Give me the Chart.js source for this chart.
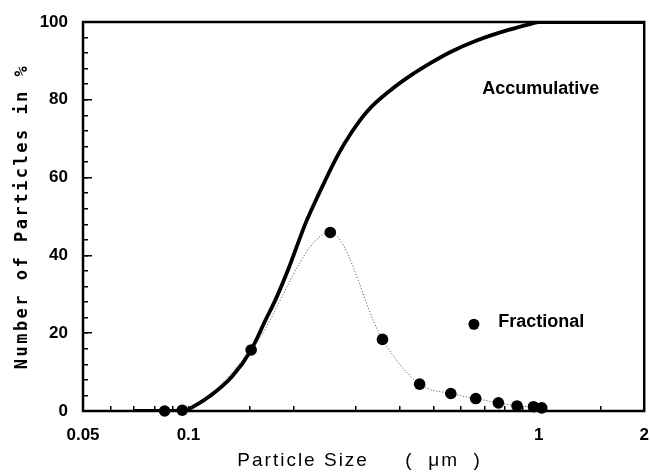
<!DOCTYPE html>
<html>
<head>
<meta charset="utf-8">
<script src="https://cdn.jsdelivr.net/npm/chart.js@4.4.1/dist/chart.umd.min.js"></script>
<style>
    html, body { margin: 0; padding: 0; background: #fff; }
    #wrap { width: 650px; height: 475px; }
</style>
</head>
<body>
<div id="wrap"><canvas id="sizeChart" width="650" height="475"></canvas></div>
<script>
// values
const accSize = [0.07, 0.096, 0.105, 0.1146, 0.133, 0.151, 0.166, 0.177, 0.194, 0.216, 0.23, 0.267, 0.292, 0.325, 0.379, 0.425, 0.492, 0.56, 0.668, 0.815, 0.957, 1.0, 2.0];
const accPct = [0, 0, 1.5, 3.7, 8.8, 15.7, 23.4, 28.5, 37.1, 48.3, 53.8, 65.8, 71.6, 77.2, 82.6, 85.9, 89.5, 92.3, 95.3, 97.9, 99.6, 100, 100];

const fracSize = [0.0855, 0.096, 0.151, 0.254, 0.358, 0.457, 0.561, 0.661, 0.767, 0.867, 0.966, 1.02];
const fracPct = [0, 0.2, 15.7, 45.9, 18.4, 6.9, 4.5, 3.2, 2.1, 1.3, 1.1, 0.8];

const xTickLabels = [0.05, 0.1, 1, 2];
const yTickLabels = [0, 20, 40, 60, 80, 100];

const seriesNames = ['Accumulative', 'Fractional'];
const xTitle = 'Particle Size     (  \u03bcm  )';
const yTitle = 'Number of Particles in %';

const toPoints = (xs, ys) => xs.map((x, i) => ({ x: x, y: ys[i] }));

// draws the frame, the two series labels and the axis titles
const decorations = {
    id: 'decorations',
    afterDatasetsDraw(chart) {
        const { ctx, chartArea: a, scales } = chart;
        const xs = scales.x, ys = scales.y;
        ctx.save();

        ctx.strokeStyle = '#000';
        ctx.lineWidth = 2.5;
        ctx.strokeRect(a.left, a.top, a.right - a.left, a.bottom - a.top);

        ctx.fillStyle = '#000';
        ctx.font = 'bold 18px "Liberation Sans", Arial, sans-serif';
        ctx.textBaseline = 'middle';
        ctx.textAlign = 'left';
        ctx.fillText(seriesNames[0], xs.getPixelForValue(0.69), ys.getPixelForValue(82.8));
        ctx.fillText(seriesNames[1], xs.getPixelForValue(0.766), ys.getPixelForValue(22.9));

        ctx.beginPath();
        ctx.arc(xs.getPixelForValue(0.653), ys.getPixelForValue(22.3), 5.5, 0, Math.PI * 2);
        ctx.fill();

        // x title
        ctx.font = '19px "Liberation Sans", Arial, sans-serif';
        ctx.letterSpacing = '2px';
        ctx.textAlign = 'center';
        ctx.fillText(xTitle, (a.left + a.right) / 2 - 4, 461);

        // y title, rotated
        ctx.font = 'bold 17px "DejaVu Sans Mono", monospace';
        ctx.letterSpacing = '2.5px';
        ctx.translate(23, (a.top + a.bottom) / 2);
        ctx.rotate(-Math.PI / 2);
        ctx.fillText(yTitle, 0, 0);

        ctx.restore();
    }
};

const ctx = document.getElementById('sizeChart').getContext('2d');
const sizeChart = new Chart(ctx, {
    type: 'scatter',
    data: {
        datasets: [{
            label: seriesNames[0],
            data: toPoints(accSize, accPct),
            showLine: true,
            borderColor: '#000',
            borderWidth: 3.8,
            pointRadius: 0,
            cubicInterpolationMode: 'monotone',
            order: 2
        }, {
            label: seriesNames[1],
            data: toPoints(fracSize, fracPct),
            showLine: true,
            borderColor: '#444',
            borderWidth: 1,
            borderDash: [1, 2],
            pointRadius: 5.8,
            pointBackgroundColor: '#000',
            pointBorderColor: '#000',
            pointBorderWidth: 0,
            cubicInterpolationMode: 'monotone',
            clip: false,
            order: 1
        }]
    },
    options: {
        responsive: false,
        animation: false,
        events: [],
        layout: { padding: { top: 22, right: 2, left: 0, bottom: 0 } },
        plugins: {
            legend: { display: false },
            tooltip: { enabled: false }
        },
        scales: {
            x: {
                type: 'logarithmic',
                min: 0.05,
                max: 2,
                grid: { drawOnChartArea: false, tickLength: -5, color: '#000', lineWidth: 1.5 },
                border: { display: false },
                ticks: {
                    autoSkip: false,
                    maxRotation: 0,
                    padding: 19,
                    color: '#000',
                    font: { family: '"Liberation Sans", Arial, sans-serif', size: 17, weight: 'bold' },
                    callback: (value) => {
                        const hit = xTickLabels.find(t => Math.abs(t - value) < 1e-9);
                        return hit === undefined ? '' : String(hit);
                    }
                },
                afterFit: (scale) => {
                    scale.height = 64;
                    scale.paddingLeft = 0;
                    scale.paddingRight = 0;
                }
            },
            // minor ticks every 4
            y: {
                position: 'left',
                weight: 0,
                min: 0,
                max: 100,
                grid: { drawOnChartArea: false, tickLength: -5, color: '#000', lineWidth: 1.5 },
                border: { display: false },
                ticks: { display: false, stepSize: 4 },
                afterFit: (scale) => {
                    scale.width = 0;
                    scale.paddingTop = 0;
                    scale.paddingBottom = 0;
                }
            },
            // labelled ticks every 20
            yMajor: {
                position: 'left',
                weight: 1,
                min: 0,
                max: 100,
                grid: { drawOnChartArea: false, tickLength: -9, color: '#000', lineWidth: 1.5 },
                border: { display: false },
                ticks: {
                    stepSize: 20,
                    padding: 24,
                    color: '#000',
                    font: { family: '"Liberation Sans", Arial, sans-serif', size: 17, weight: 'bold' },
                    callback: (value) => yTickLabels.includes(value) ? String(value) : ''
                },
                afterFit: (scale) => {
                    scale.width = 83;
                    scale.paddingTop = 0;
                    scale.paddingBottom = 0;
                }
            }
        }
    },
    plugins: [decorations]
});
</script>
</body>
</html>
